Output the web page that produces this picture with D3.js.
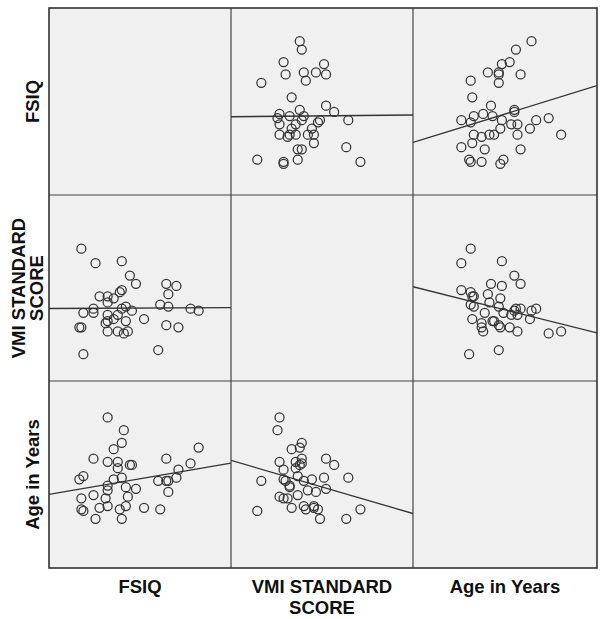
<!DOCTYPE html>
<html>
<head>
<meta charset="utf-8">
<script src="https://cdn.jsdelivr.net/npm/d3@7"></script>
<style>
  html, body { margin: 0; padding: 0; background: #ffffff; }
  svg { display: block; }
</style>
</head>
<body>
<div id="chart"></div>
<script>
// ---- data ----
const varNames = ["FSIQ", "VMI STANDARD SCORE", "Age in Years"];
const varLabelLines = [["FSIQ"], ["VMI STANDARD", "SCORE"], ["Age in Years"]];
const fsiq = [129,125,119,118,114,114,113,113,110,109,102,98,96,95,94,93,93,92,91,91,91,90,89,89,87,87,84,83,84,84,84,84,80,78,77,77,72,72,71,71,70];
const vmi  = [89,90,81,101,91,97,82,102,92,70,85,102,89,106,79,91,84,78,90,99,113,98,79,87,95,85,79,83,84,87,93,96,96,112,88,90,68,88,81,119,81];
const age  = [10.6,9.6,9.2,8.7,8.5,7.8,8.5,9.9,6.7,8.5,6.8,8.0,9.5,9.5,7.5,6.9,8.1,11.7,10.9,6.1,8.7,6.7,9.7,9.3,8.6,10.5,12.5,7.4,8.2,9.7,7.9,6.9,6.8,6.1,7.6,9.9,6.6,8.8,7.4,6.7,8.6];
const fsiqDomain = [55, 145];
const vmiDomain = [55, 145];
const ageDomain = [3, 14.8];

const series = [fsiq, vmi, age];
const domains = [fsiqDomain, vmiDomain, ageDomain];

// ---- layout ----
const W = 602, H = 619;
const colX = [49, 231, 413, 597];
const rowY = [8, 195, 381, 568];
const font = "'Liberation Sans', Arial, Helvetica, sans-serif";

const svg = d3.select("#chart").append("svg")
  .attr("width", W).attr("height", H);

const defs = svg.append("defs");

function fit(xs, ys) {
  const mx = d3.mean(xs), my = d3.mean(ys);
  let sxy = 0, sxx = 0;
  for (let k = 0; k < xs.length; k++) {
    sxy += (xs[k] - mx) * (ys[k] - my);
    sxx += (xs[k] - mx) * (xs[k] - mx);
  }
  const b = sxy / sxx;
  return { b: b, a: my - b * mx };
}

for (let i = 0; i < 3; i++) {
  for (let j = 0; j < 3; j++) {
    const x0 = colX[j], x1 = colX[j + 1], y0 = rowY[i], y1 = rowY[i + 1];
    const g = svg.append("g");
    g.append("rect")
      .attr("x", x0).attr("y", y0)
      .attr("width", x1 - x0).attr("height", y1 - y0)
      .attr("fill", "#f0f0f0");
    if (i === j) continue;
    const cid = "clip" + i + j;
    defs.append("clipPath").attr("id", cid)
      .append("rect").attr("x", x0).attr("y", y0)
      .attr("width", x1 - x0).attr("height", y1 - y0);
    const xs = d3.scaleLinear().domain(domains[j]).range([x0, x1]);
    const ys = d3.scaleLinear().domain(domains[i]).range([y1, y0]);
    const xv = series[j], yv = series[i];
    const pg = g.append("g").attr("clip-path", "url(#" + cid + ")");
    const f = fit(xv, yv);
    const dx = domains[j];
    pg.append("line")
      .attr("x1", xs(dx[0])).attr("y1", ys(f.a + f.b * dx[0]))
      .attr("x2", xs(dx[1])).attr("y2", ys(f.a + f.b * dx[1]))
      .attr("stroke", "#333").attr("stroke-width", 1.3);
    pg.selectAll("circle").data(d3.range(xv.length)).enter()
      .append("circle")
      .attr("cx", k => xs(xv[k]))
      .attr("cy", k => ys(yv[k]))
      .attr("r", 4.5)
      .attr("fill", "none")
      .attr("stroke", "#333")
      .attr("stroke-width", 1.25);
  }
}

// grid lines
const gridG = svg.append("g").attr("stroke", "#444").attr("stroke-width", 1.2);
[colX[1], colX[2]].forEach(x => gridG.append("line")
  .attr("x1", x).attr("x2", x).attr("y1", rowY[0]).attr("y2", rowY[3]));
[rowY[1], rowY[2]].forEach(y => gridG.append("line")
  .attr("y1", y).attr("y2", y).attr("x1", colX[0]).attr("x2", colX[3]));
svg.append("rect")
  .attr("x", colX[0]).attr("y", rowY[0])
  .attr("width", colX[3] - colX[0]).attr("height", rowY[3] - rowY[0])
  .attr("fill", "none").attr("stroke", "#333").attr("stroke-width", 1.6);

// bottom labels
for (let j = 0; j < 3; j++) {
  const cx = (colX[j] + colX[j + 1]) / 2;
  const t = svg.append("text")
    .attr("text-anchor", "middle")
    .attr("font-family", font).attr("font-weight", "bold")
    .attr("font-size", "18.5px").attr("fill", "#111");
  varLabelLines[j].forEach((ln, k) => {
    t.append("tspan").attr("x", cx).attr("y", 593 + k * 20.5).text(ln);
  });
}
// left labels
for (let i = 0; i < 3; i++) {
  const cy = (rowY[i] + rowY[i + 1]) / 2;
  const lines = varLabelLines[i];
  const baseX = lines.length === 1 ? [39] : [25, 43];
  lines.forEach((ln, k) => {
    svg.append("text")
      .attr("transform", "translate(" + baseX[k] + "," + cy + ") rotate(-90)")
      .attr("text-anchor", "middle")
      .attr("font-family", font).attr("font-weight", "bold")
      .attr("font-size", "18.5px").attr("fill", "#111")
      .text(ln);
  });
}
</script>
</body>
</html>
